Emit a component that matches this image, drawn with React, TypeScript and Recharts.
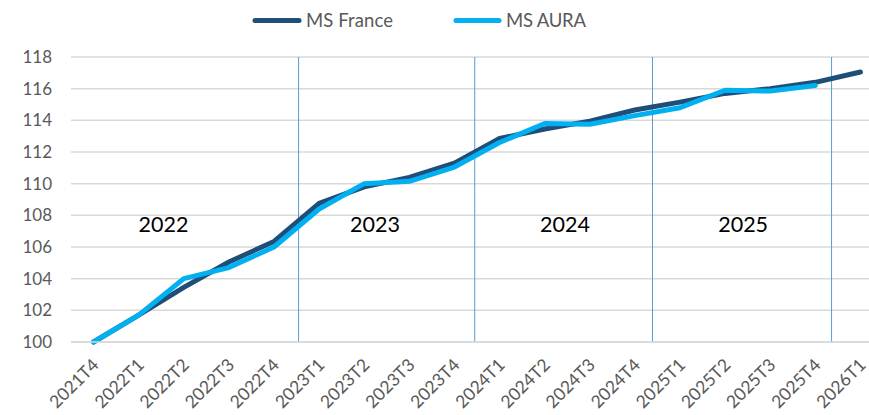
import { LineChart, Line, XAxis, YAxis, CartesianGrid, ReferenceLine, ReferenceDot } from 'recharts';

const quarters = [
  '2021T4', '2022T1', '2022T2', '2022T3', '2022T4',
  '2023T1', '2023T2', '2023T3', '2023T4',
  '2024T1', '2024T2', '2024T3', '2024T4',
  '2025T1', '2025T2', '2025T3', '2025T4', '2026T1',
];
const msFrance = [100, 101.7, 103.45, 105.05, 106.35, 108.75, 109.8, 110.4, 111.3, 112.85, 113.45, 113.95, 114.65, 115.15, 115.7, 116.0, 116.4, 117.05];
const msAura = [100, 101.7, 104.0, 104.7, 106.0, 108.4, 110.0, 110.15, 111.05, 112.6, 113.8, 113.75, 114.3, 114.8, 115.9, 115.85, 116.2, null];
const yTicks = [100, 102, 104, 106, 108, 110, 112, 114, 116, 118];
const years = ['2022', '2023', '2024', '2025'];

// where the separators and year captions sit, in axis units
const dividerPos = [4.545, 8.45, 12.39, 16.36];
const yearPos = [1.55, 6.24, 10.45, 14.4];

const data = quarters.map((q, i) => ({ i, q, france: msFrance[i], aura: msAura[i] }));

const FONT = 'Lato, "Open Sans", sans-serif';
const GREY = '#595959';
const NAVY = '#1f4e79';
const CYAN = '#00b0f0';

const XTick = ({ x, y, payload }: any) => (
  <text
    transform={`translate(${x + 6.5},${y + 22}) rotate(-45)`}
    textAnchor="end"
    fill={GREY}
    fontSize={17.5}
    fontFamily={FONT}
  >
    {quarters[payload.value]}
  </text>
);

const YearLabel = (text: string) => (props: any) => (
  <text x={props.cx} y={props.cy} textAnchor="middle" dominantBaseline="central" fill="#000" fontSize={21.5} fontFamily={FONT}>
    {text}
  </text>
);

const LegendBox = () => (
  <svg width={869} height={40} style={{ position: 'absolute', left: 0, top: 0 }}>
    <line x1={255} y1={20.5} x2={299} y2={20.5} stroke={NAVY} strokeWidth={5} strokeLinecap="round" />
    <text x={306} y={26.7} fill={GREY} fontSize={18.5} fontFamily={FONT} textLength={87}>MS France</text>
    <line x1={456} y1={20.5} x2={499} y2={20.5} stroke={CYAN} strokeWidth={5} strokeLinecap="round" />
    <text x={506} y={26.7} fill={GREY} fontSize={18.5} fontFamily={FONT} textLength={80}>MS AURA</text>
  </svg>
);

const App = () => (
  <div style={{ position: 'absolute', left: 0, top: 0, width: 869, height: 415, overflow: 'hidden', background: '#fff' }}>
    <LineChart width={883} height={415} data={data} margin={{ top: 57, right: 0, bottom: 0, left: 0 }}>
      <CartesianGrid vertical={false} stroke="#d9d9d9" strokeWidth={1.5} />
      <XAxis
        dataKey="i"
        type="number"
        domain={[-0.5, 17.5]}
        ticks={quarters.map((_, i) => i)}
        interval={0}
        height={73}
        tick={<XTick />}
        tickLine={false}
        tickSize={0}
        axisLine={{ stroke: '#d9d9d9', strokeWidth: 1.5 }}
      />
      <YAxis
        domain={[100, 118]}
        ticks={yTicks}
        width={71}
        tickLine={false}
        axisLine={false}
        tickSize={0}
        tickMargin={19}
        tick={{ fill: GREY, fontSize: 17, fontFamily: FONT }}
      />
      {dividerPos.map((x) => (
        <ReferenceLine key={x} x={x} stroke="#5b9bd5" strokeWidth={1} />
      ))}
      {years.map((yr, k) => (
        <ReferenceDot key={yr} x={yearPos[k]} y={107.45} r={0} shape={YearLabel(yr)} />
      ))}
      <Line dataKey="france" stroke={NAVY} strokeWidth={5} strokeLinecap="round" strokeLinejoin="round" dot={false} isAnimationActive={false} />
      <Line dataKey="aura" stroke={CYAN} strokeWidth={5} strokeLinecap="round" strokeLinejoin="round" dot={false} isAnimationActive={false} connectNulls={false} />
    </LineChart>
    <LegendBox />
  </div>
);

export default App;
